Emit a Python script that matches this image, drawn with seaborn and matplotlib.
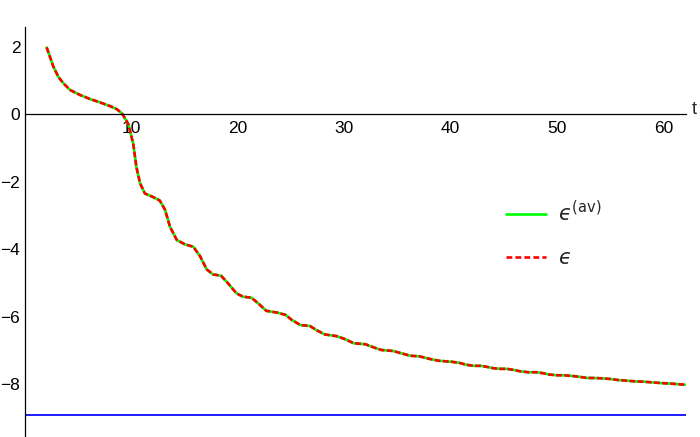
import numpy as np
import pandas as pd
import matplotlib
matplotlib.use("Agg")
import matplotlib.pyplot as plt
import seaborn as sns
from matplotlib.ticker import MultipleLocator, FixedLocator

# ---- data ----
t = [2.08, 2.39, 2.71, 3.17, 3.64, 4.27, 5.21, 6.15, 7.09, 8.03, 8.66, 9.13, 9.53, 9.75,
     10.2, 10.5, 10.85, 11.3, 12.1, 12.7, 13.2, 13.66, 14.3, 15.07, 15.85, 16.5, 17.1,
     17.7, 18.45, 19.1, 19.9, 20.5, 21.3, 21.95, 22.7, 23.7, 24.5, 25.1, 25.9, 26.8,
     27.4, 28.2, 29.3, 30.1, 30.9, 32.0, 32.75, 33.5, 34.6, 35.4, 36.2, 37.1, 38.1,
     38.9, 40.1, 40.8, 41.5, 42.2, 42.8, 43.4, 44.0, 44.7, 45.3, 45.9, 46.5, 47.3,
     48.1, 48.7, 49.3, 50.0, 50.6, 51.4, 52.2, 52.8, 53.4, 54.2, 55.0, 55.7, 56.5,
     57.3, 58.1, 58.9, 59.7, 60.8, 62.0]
eps = [1.98, 1.70, 1.41, 1.11, 0.92, 0.72, 0.57, 0.45, 0.35, 0.24, 0.15, 0.03, -0.17, -0.30,
       -0.86, -1.56, -2.05, -2.35, -2.46, -2.56, -2.84, -3.34, -3.73, -3.86, -3.93, -4.22, -4.60,
       -4.75, -4.79, -5.01, -5.31, -5.41, -5.44, -5.61, -5.83, -5.88, -5.95, -6.10, -6.25, -6.28,
       -6.40, -6.53, -6.58, -6.67, -6.79, -6.82, -6.91, -6.99, -7.02, -7.09, -7.16, -7.18, -7.26,
       -7.31, -7.34, -7.37, -7.43, -7.46, -7.46, -7.49, -7.53, -7.55, -7.55, -7.58, -7.62, -7.65,
       -7.65, -7.68, -7.72, -7.74, -7.74, -7.76, -7.79, -7.82, -7.82, -7.83, -7.85, -7.88, -7.90,
       -7.92, -7.93, -7.95, -7.97, -7.99, -8.02]
eps_av = list(eps)
limit_value = -8.93

x_ticks = [10, 20, 30, 40, 50, 60]
y_ticks = [-8, -6, -4, -2, 0, 2]

df = pd.DataFrame({"t": t, "eps": eps, "eps_av": eps_av})

sns.set_style("white")
plt.rcParams["font.family"] = ["Liberation Sans", "DejaVu Sans"]
plt.rcParams["mathtext.fontset"] = "dejavusans"

fig = plt.figure(figsize=(7.0, 4.37), dpi=100)
ax = fig.add_axes([24.5 / 700, 0.0, (686 - 24.5) / 700, (437 - 27) / 437])

sns.lineplot(data=df, x="t", y="eps_av", ax=ax, color=(0, 1, 0), lw=1.9,
             label="$\u03f5^{(\\mathrm{av})}$", sort=False)
sns.lineplot(data=df, x="t", y="eps", ax=ax, color=(1, 0, 0), lw=1.9,
             label="$\u03f5$", sort=False)
ax.lines[1].set_dashes((2.2, 0.9))
ax.axhline(limit_value, color=(0.1, 0.1, 1.0), lw=1.4)

ax.set_xlim(0, 62.1)
ax.set_ylim(-9.57, 2.585)
ax.set_xlabel("")
ax.set_ylabel("")

for s in ["top", "right"]:
    ax.spines[s].set_visible(False)
ax.spines["bottom"].set_position(("data", 0))
ax.spines["left"].set_position(("data", 0))
for s in ["bottom", "left"]:
    ax.spines[s].set_color("black")
    ax.spines[s].set_linewidth(0.9)

ax.xaxis.set_major_locator(FixedLocator(x_ticks))
ax.xaxis.set_minor_locator(MultipleLocator(2))
ax.yaxis.set_major_locator(FixedLocator(y_ticks))
ax.yaxis.set_minor_locator(MultipleLocator(0.5))
ax.set_xticklabels([str(v) for v in x_ticks])
ax.set_yticklabels([str(v).replace("-", "\u2212") for v in y_ticks])
ax.tick_params(axis="both", which="major", direction="in", length=3.4, width=0.8,
               color="black", labelsize=12.5, labelcolor="black")
ax.tick_params(axis="both", which="minor", direction="in", length=2.2, width=0.7, color="black")
ax.tick_params(axis="x", pad=5)
ax.tick_params(axis="y", pad=3)

ax.text(62.6, 0.15, "t", fontsize=13, ha="left", va="center", clip_on=False)

leg = ax.legend(loc="center left", bbox_to_anchor=(506 / 700, 1 - 234 / 437),
                bbox_transform=fig.transFigure, frameon=False, fontsize=15,
                handlelength=1.9, handletextpad=0.6, labelspacing=1.15,
                borderpad=0, borderaxespad=0)
leg.get_lines()[1].set_dashes((2.2, 1.2))

fig.savefig("out.png", dpi=100)
